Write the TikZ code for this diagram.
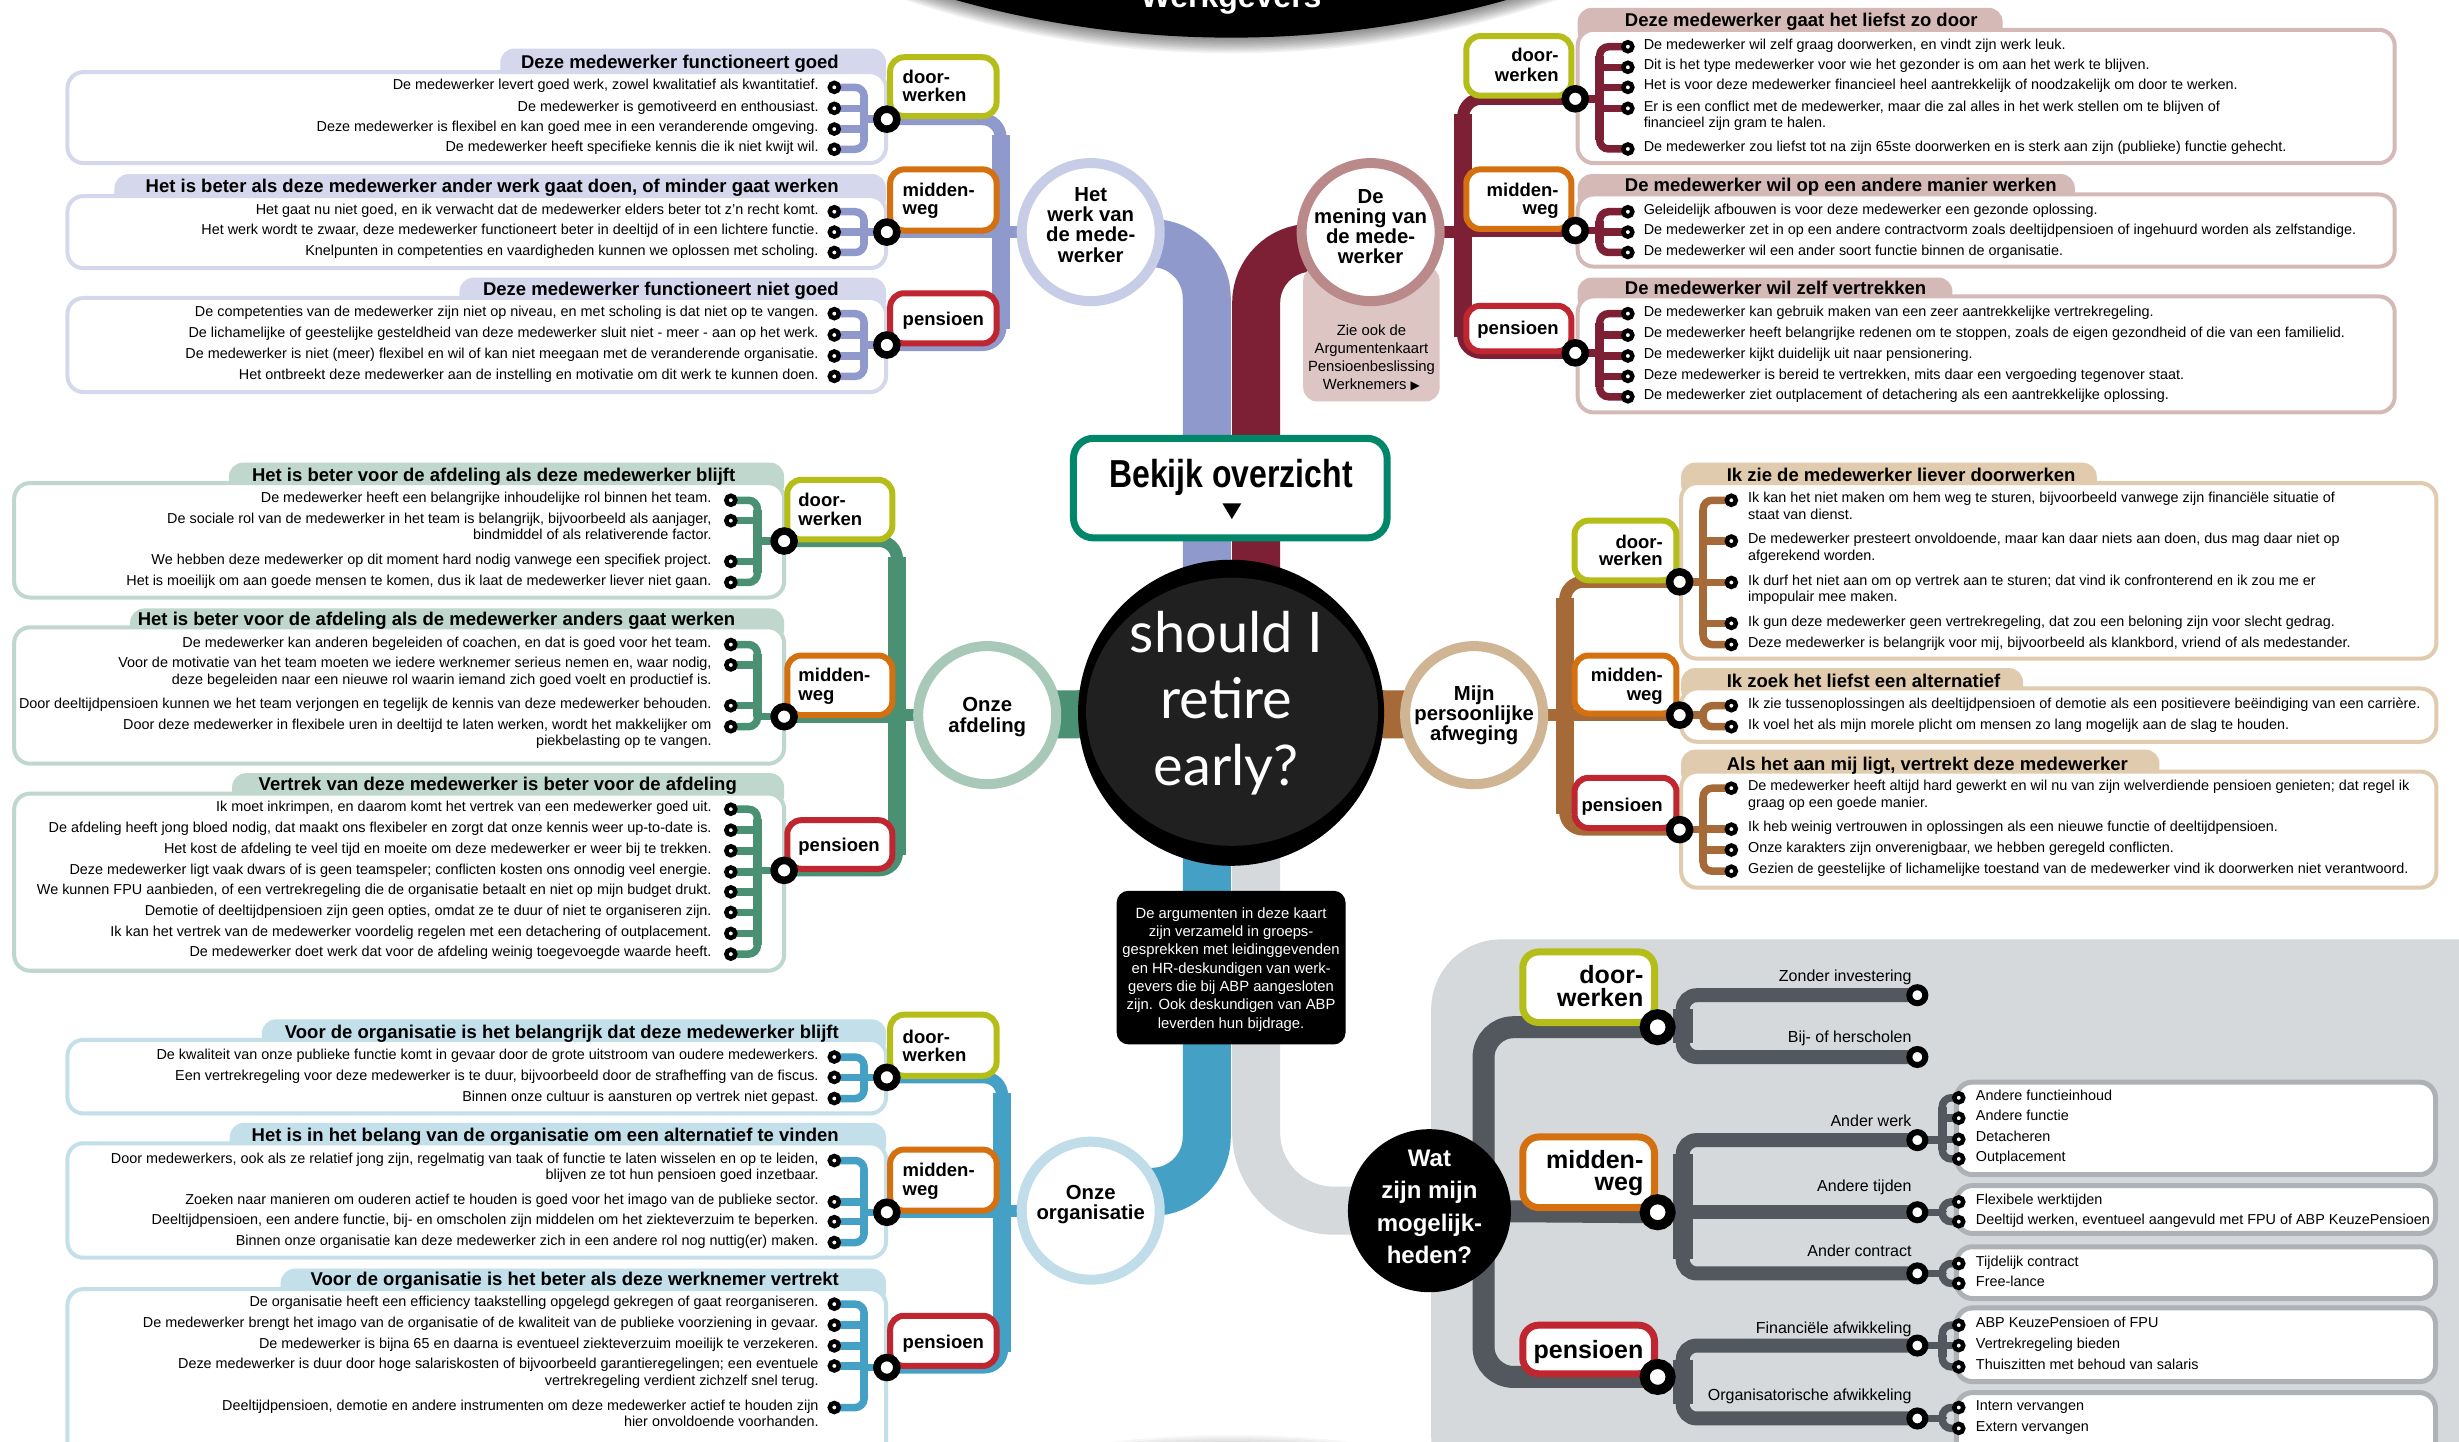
\documentclass[tikz,border=0pt]{standalone}
\usepackage{graphicx}
\usepackage{fontspec}
\setmainfont{Liberation Sans}
\newfontfamily\latofont{Lato}
\newfontfamily\djv{DejaVu Sans}
\usetikzlibrary{calc}
\pgfdeclarelayer{back}
\pgfdeclarelayer{lines}
\pgfsetlayers{back,lines,main}

\definecolor{lav}{HTML}{8F99CC}
\definecolor{lavtab}{HTML}{D5D8EC}
\definecolor{lavring}{HTML}{C8CDE7}
\definecolor{mar}{HTML}{7D1F35}
\definecolor{martab}{HTML}{D4B9B6}
\definecolor{marring}{HTML}{BA898A}
\definecolor{marbox}{HTML}{DCC5C3}
\definecolor{grn}{HTML}{4A9073}
\definecolor{grntab}{HTML}{BFD7CC}
\definecolor{grnring}{HTML}{A8C8B8}
\definecolor{brn}{HTML}{A56A37}
\definecolor{brntab}{HTML}{E0CBAE}
\definecolor{brnring}{HTML}{CFB593}
\definecolor{blu}{HTML}{44A0C4}
\definecolor{blutab}{HTML}{C3DFEA}
\definecolor{bluring}{HTML}{C0DDE9}
\definecolor{gpanel}{HTML}{D5D9DC}
\definecolor{gdark}{HTML}{53575E}
\definecolor{gbox}{HTML}{AEB2B6}
\definecolor{cdoor}{HTML}{B5BD19}
\definecolor{cmid}{HTML}{D4700F}
\definecolor{cpen}{HTML}{C0262F}
\definecolor{bekteal}{HTML}{00876A}
\definecolor{coredark}{HTML}{202020}

\newcommand\fitem{\fontsize{14.4pt}{16.5pt}\selectfont}
\newcommand\fhdr{\fontsize{18.5pt}{20pt}\selectfont\bfseries}
\newcommand\flab{\fontsize{18.5pt}{19pt}\selectfont\bfseries}
\newcommand\fbiglab{\fontsize{25pt}{26pt}\selectfont\bfseries}
\newcommand\fring{\fontsize{20.3pt}{21pt}\selectfont\bfseries}
\newcommand\fsub{\fontsize{16pt}{18pt}\selectfont}
\newcommand\fnote{\fontsize{14.8pt}{17pt}\selectfont}
\newcommand\fwat{\fontsize{24pt}{26pt}\selectfont\bfseries}
\newcommand\fcore{\latofont\fontsize{56pt}{60pt}\selectfont}
\newcommand\fbek{\fontsize{39pt}{40pt}\selectfont\bfseries}
\newcommand\fwg{\fontsize{32pt}{34pt}\selectfont\bfseries}

\newcommand\tgap{15.5pt}
\newcommand\ItemL[4]{%
  \node[itdot] (#1) at (#2,#3) {};
  \node[itxt, anchor=mid east, xshift=-\tgap] (#1t) at (#2,#3) {#4};}
\newcommand\ItemLL[5]{%
  \ItemL{#1}{#2}{#3}{#4}%
  \node[itxt, anchor=mid east, xshift=-\tgap, yshift=-16.5pt] (#1u) at (#2,#3) {#5};}
\newcommand\ItemR[4]{%
  \node[itdot] (#1) at (#2,#3) {};
  \node[itxt, anchor=mid west, xshift=\tgap] (#1t) at (#2,#3) {#4};}
\newcommand\ItemRR[5]{%
  \ItemR{#1}{#2}{#3}{#4}%
  \node[itxt, anchor=mid west, xshift=\tgap, yshift=-16.5pt] (#1u) at (#2,#3) {#5};}

\newcommand\PanelL[7]{%
  \fill[#1, rounded corners=14pt] (#2,#3) rectangle (#6,#5+10);
  \draw[panelbox, draw=#1] (#4,#5) rectangle (#6,#7);}
\newcommand\PanelR[7]{%
  \fill[#1, rounded corners=14pt] (#4,#3) rectangle (#2,#5+10);
  \draw[panelbox, draw=#1] (#4,#5) rectangle (#6,#7);}

\newcommand\Brk[6]{%
  \draw[brkh,#1] (#2.center) -- (#2.center -| #6) -- (#3.center -| #6) -- (#3.center);
  \draw[brkv,#1] ($(#2.center -| #6)+(0,6)$) -- ($(#3.center -| #6)+(0,-6)$);
  \draw[brkh,#1,sharp corners] (#5.center) -- (#5.center -| #6);
  \def\brkmid{#4}%
  \ifx\brkmid\empty\else
    \foreach \k in {#4} {\draw[brkh,#1,sharp corners] (\k.center) -- (\k.center -| #6);}%
  \fi}

\newcommand\Sec[6]{%
  \draw[sech,#1] (#2.center) -- (#2.center -| #6) -- (#4.center -| #6) -- (#4.center);
  \draw[secv,#1] ($(#2.center -| #6)+(0,10)$) -- ($(#4.center -| #6)+(0,-10)$);
  \draw[sech,#1,sharp corners] (#3.center) -- (#3.center -| #6);
  \draw[sech,#1,sharp corners] (#5.center) -- (#5.center -| #6);}

\newcommand\Lines[6]{%
  \foreach \t [count=\i] in {#6} {\node[#5] (#1\i) at (#2,{#3+(\i-1)*#4}) {\t};}}

\begin{document}
\begin{tikzpicture}[x=1.568pt, y=-1.568pt,
  itxt/.style={font=\fitem, inner sep=0pt},
  hdrtxt/.style={font=\fhdr, inner sep=0pt},
  labtxt/.style={font=\flab, inner sep=0pt},
  biglab/.style={font=\fbiglab, inner sep=0pt},
  sublab/.style={font=\fsub, inner sep=0pt, anchor=base east},
  itdot/.style={circle, draw=black, fill=white, line width=4.5pt, minimum size=9pt, inner sep=0pt},
  bigdot/.style={circle, draw=black, fill=white, line width=7.5pt, minimum size=20pt, inner sep=0pt},
  hugedot/.style={circle, draw=black, fill=white, line width=10pt, minimum size=26pt, inner sep=0pt},
  enddot/.style={circle, draw=black, fill=white, line width=6pt, minimum size=16pt, inner sep=0pt},
  ringc/.style={circle, fill=white, line width=10pt, minimum size=138pt, inner sep=0pt},
  ringtxt/.style={font=\fring, inner sep=0pt, anchor=base},
  labbox/.style={fill=white, line width=6pt, rounded corners=14pt},
  biglabbox/.style={fill=white, line width=7pt, rounded corners=16pt},
  panelbox/.style={fill=white, line width=4pt, rounded corners=16pt},
  trunk/.style={line width=48pt},
  sech/.style={line width=12pt, rounded corners=18pt},
  secv/.style={line width=18pt},
  brkh/.style={line width=7.5pt, rounded corners=9pt},
  brkv/.style={line width=8.5pt},
]
\useasboundingbox (0,0) rectangle (1568,919);

% ================= BACK LAYER =================
\begin{pgfonlayer}{back}
\fill[white] (0,0) rectangle (1568,919);
\foreach \k in {1,...,10} {\fill[black, opacity=0.035] (785,{1578-\k*1.3}) circle [radius=650];}
\fill[gpanel, rounded corners=70pt] (912.6,599) rectangle (1620,960);
% TL
\PanelL{lavtab}{319}{31}{43}{46}{565}{104}
\PanelL{lavtab}{73}{111}{43}{125}{565}{171}
\PanelL{lavtab}{293}{177}{43}{190}{565}{250}
% TR
\PanelR{martab}{1277}{5}{1006}{19}{1527}{104}
\PanelR{martab}{1323}{111}{1006}{124}{1527}{170}
\PanelR{martab}{1245}{177}{1006}{189}{1527}{263}
% ML
\PanelL{grntab}{146}{295}{9}{308}{500}{381}
\PanelL{grntab}{83}{388}{9}{400}{500}{487}
\PanelL{grntab}{148}{493}{9}{506}{500}{619}
% MR
\PanelR{brntab}{1337}{295}{1072}{308}{1553.6}{420}
\PanelR{brntab}{1290}{426}{1072}{439}{1553.6}{473}
\PanelR{brntab}{1377}{478}{1072}{492}{1553.6}{566}
% BL
\PanelL{blutab}{167}{650}{43}{663}{565}{710}
\PanelL{blutab}{146.5}{716}{43}{729}{565}{802}
\PanelL{blutab}{179}{809}{43}{822}{565}{935}
% BR sub boxes
\draw[panelbox, line width=5pt, draw=gbox] (1247.5,690) rectangle (1553,749);
\draw[panelbox, line width=5pt, draw=gbox] (1247.5,756) rectangle (1553,786.5);
\draw[panelbox, line width=5pt, draw=gbox] (1247.5,795) rectangle (1553,828);
\draw[panelbox, line width=5pt, draw=gbox] (1247.5,834) rectangle (1553,881);
\draw[panelbox, line width=5pt, draw=gbox] (1247.5,888) rectangle (1553,935);
\end{pgfonlayer}

% ================= TOP "Werkgevers" =================
\foreach \k in {1,...,10} {\fill[black, opacity=0.05] (785,{-626+\k*1.0}) circle [radius=650];}
\fill[black] (785,-626) circle [radius=650];
\node[font=\fwg, text=white, anchor=base, inner sep=0pt] (wg) at (785,4.5) {Werkgevers};

% ================= TL =================
\node[hdrtxt, anchor=base east] (tlh1) at (535,43.6) {Deze medewerker functioneert goed};
\node[hdrtxt, anchor=base east] (tlh2) at (535,122.6) {Het is beter als deze medewerker ander werk gaat doen, of minder gaat werken};
\node[hdrtxt, anchor=base east] (tlh3) at (535,188.6) {Deze medewerker functioneert niet goed};
\draw[labbox, draw=cdoor] (567.6,36.5) rectangle (635.5,74);
\draw[labbox, draw=cmid] (567.6,108) rectangle (635.5,147);
\draw[labbox, draw=cpen] (567.6,187) rectangle (635.5,219);
\node[labtxt, anchor=base west] (tll1) at (575.5,53) {door-};
\node[labtxt, anchor=base west] (tll2) at (575.5,65) {werken};
\node[labtxt, anchor=base west] (tll3) at (575.5,125.4) {midden-};
\node[labtxt, anchor=base west] (tll4) at (575.5,137) {weg};
\node[labtxt, anchor=base west] (tll5) at (575.5,207.3) {pensioen};
\node[bigdot] (tlA) at (565.5,76) {};
\node[bigdot] (tlB) at (565.5,148) {};
\node[bigdot] (tlC) at (565.5,220) {};
\renewcommand\tgap{15.5pt}
\ItemL{tl1a}{532}{55.7}{De medewerker levert goed werk, zowel kwalitatief als kwantitatief.}
\ItemL{tl1b}{532}{69.1}{De medewerker is gemotiveerd en enthousiast.}
\ItemL{tl1c}{532}{82.3}{Deze medewerker is flexibel en kan goed mee in een veranderende omgeving.}
\ItemL{tl1d}{532}{95.2}{De medewerker heeft specifieke kennis die ik niet kwijt wil.}
\ItemL{tl2a}{532}{135}{Het gaat nu niet goed, en ik verwacht dat de medewerker elders beter tot z’n recht komt.}
\ItemL{tl2b}{532}{148}{Het werk wordt te zwaar, deze medewerker functioneert beter in deeltijd of in een lichtere functie.}
\ItemL{tl2c}{532}{161}{Knelpunten in competenties en vaardigheden kunnen we oplossen met scholing.}
\ItemL{tl3a}{532}{200}{De competenties van de medewerker zijn niet op niveau, en met scholing is dat niet op te vangen.}
\ItemL{tl3b}{532}{213.6}{De lichamelijke of geestelijke gesteldheid van deze medewerker sluit niet - meer - aan op het werk.}
\ItemL{tl3c}{532}{227}{De medewerker is niet (meer) flexibel en wil of kan niet meegaan met de veranderende organisatie.}
\ItemL{tl3d}{532}{240}{Het ontbreekt deze medewerker aan de instelling en motivatie om dit werk te kunnen doen.}
\coordinate (tlbar) at (638,0);
\coordinate (tlbk) at (551,0);

% ================= TR =================
\node[hdrtxt, anchor=base west] (trh1) at (1036,17) {Deze medewerker gaat het liefst zo door};
\node[hdrtxt, anchor=base west] (trh2) at (1036,122) {De medewerker wil op een andere manier werken};
\node[hdrtxt, anchor=base west] (trh3) at (1036,188) {De medewerker wil zelf vertrekken};
\draw[labbox, draw=cdoor] (935,23) rectangle (1002,61);
\draw[labbox, draw=cmid] (935,108) rectangle (1002,146);
\draw[labbox, draw=cpen] (935,195) rectangle (1002,224);
\node[labtxt, anchor=base east] (trl1) at (994,39.3) {door-};
\node[labtxt, anchor=base east] (trl2) at (994,52) {werken};
\node[labtxt, anchor=base east] (trl3) at (994,125.4) {midden-};
\node[labtxt, anchor=base east] (trl4) at (994,137) {weg};
\node[labtxt, anchor=base east] (trl5) at (994,213.6) {pensioen};
\node[bigdot] (trA) at (1004.5,63) {};
\node[bigdot] (trB) at (1004.5,147) {};
\node[bigdot] (trC) at (1004.5,225) {};
\renewcommand\tgap{15.7pt}
\ItemR{tr1a}{1038}{29.8}{De medewerker wil zelf graag doorwerken, en vindt zijn werk leuk.}
\ItemR{tr1b}{1038}{42.9}{Dit is het type medewerker voor wie het gezonder is om aan het werk te blijven.}
\ItemR{tr1c}{1038}{55.7}{Het is voor deze medewerker financieel heel aantrekkelijk of noodzakelijk om door te werken.}
\ItemRR{tr1d}{1038}{69.1}{Er is een conflict met de medewerker, maar die zal alles in het werk stellen om te blijven of}{financieel zijn gram te halen.}
\ItemR{tr1e}{1038}{95}{De medewerker zou liefst tot na zijn 65ste doorwerken en is sterk aan zijn (publieke) functie gehecht.}
\ItemR{tr2a}{1038}{135}{Geleidelijk afbouwen is voor deze medewerker een gezonde oplossing.}
\ItemR{tr2b}{1038}{148}{De medewerker zet in op een andere contractvorm zoals deeltijdpensioen of ingehuurd worden als zelfstandige.}
\ItemR{tr2c}{1038}{161}{De medewerker wil een ander soort functie binnen de organisatie.}
\ItemR{tr3a}{1038}{200}{De medewerker kan gebruik maken van een zeer aantrekkelijke vertrekregeling.}
\ItemR{tr3b}{1038}{213.7}{De medewerker heeft belangrijke redenen om te stoppen, zoals de eigen gezondheid of die van een familielid.}
\ItemR{tr3c}{1038}{227}{De medewerker kijkt duidelijk uit naar pensionering.}
\ItemR{tr3d}{1038}{240}{Deze medewerker is bereid te vertrekken, mits daar een vergoeding tegenover staat.}
\ItemR{tr3e}{1038}{253}{De medewerker ziet outplacement of detachering als een aantrekkelijke oplossing.}
\coordinate (trbar) at (933,0);
\coordinate (trbk) at (1020,0);

% ================= ML =================
\node[hdrtxt, anchor=base east] (mlh1) at (469,307.2) {Het is beter voor de afdeling als deze medewerker blijft};
\node[hdrtxt, anchor=base east] (mlh2) at (469,399) {Het is beter voor de afdeling als de medewerker anders gaat werken};
\node[hdrtxt, anchor=base east] (mlh3) at (470,503.8) {Vertrek van deze medewerker is beter voor de afdeling};
\draw[labbox, draw=cdoor] (502,306) rectangle (569,344);
\draw[labbox, draw=cmid] (502,418) rectangle (569,456);
\draw[labbox, draw=cpen] (502,523) rectangle (569,554);
\node[labtxt, anchor=base west] (mll1) at (509,323) {door-};
\node[labtxt, anchor=base west] (mll2) at (509,334.8) {werken};
\node[labtxt, anchor=base west] (mll3) at (509,434.7) {midden-};
\node[labtxt, anchor=base west] (mll4) at (509,446.4) {weg};
\node[labtxt, anchor=base west] (mll5) at (509,543) {pensioen};
\node[bigdot] (mlA) at (500,345) {};
\node[bigdot] (mlB) at (500,457) {};
\node[bigdot] (mlC) at (500,555) {};
\renewcommand\tgap{19pt}
\ItemL{ml1a}{466}{319}{De medewerker heeft een belangrijke inhoudelijke rol binnen het team.}
\ItemLL{ml1b}{466}{332}{De sociale rol van de medewerker in het team is belangrijk, bijvoorbeeld als aanjager,}{bindmiddel of als relativerende factor.}
\ItemL{ml1c}{466}{358}{We hebben deze medewerker op dit moment hard nodig vanwege een specifiek project.}
\ItemL{ml1d}{466}{371.4}{Het is moeilijk om aan goede mensen te komen, dus ik laat de medewerker liever niet gaan.}
\ItemL{ml2a}{466}{411}{De medewerker kan anderen begeleiden of coachen, en dat is goed voor het team.}
\ItemLL{ml2b}{466}{424}{Voor de motivatie van het team moeten we iedere werknemer serieus nemen en, waar nodig,}{deze begeleiden naar een nieuwe rol waarin iemand zich goed voelt en productief is.}
\ItemL{ml2c}{466}{450}{Door deeltijdpensioen kunnen we het team verjongen en tegelijk de kennis van deze medewerker behouden.}
\ItemLL{ml2d}{466}{463.4}{Door deze medewerker in flexibele uren in deeltijd te laten werken, wordt het makkelijker om}{piekbelasting op te vangen.}
\ItemL{ml3a}{466}{516}{Ik moet inkrimpen, en daarom komt het vertrek van een medewerker goed uit.}
\ItemL{ml3b}{466}{529.4}{De afdeling heeft jong bloed nodig, dat maakt ons flexibeler en zorgt dat onze kennis weer up-to-date is.}
\ItemL{ml3c}{466}{542.5}{Het kost de afdeling te veel tijd en moeite om deze medewerker er weer bij te trekken.}
\ItemL{ml3d}{466}{556}{Deze medewerker ligt vaak dwars of is geen teamspeler; conflicten kosten ons onnodig veel energie.}
\ItemL{ml3e}{466}{568.7}{We kunnen FPU aanbieden, of een vertrekregeling die de organisatie betaalt en niet op mijn budget drukt.}
\ItemL{ml3f}{466}{581.8}{Demotie of deeltijdpensioen zijn geen opties, omdat ze te duur of niet te organiseren zijn.}
\ItemL{ml3g}{466}{595.2}{Ik kan het vertrek van de medewerker voordelig regelen met een detachering of outplacement.}
\ItemL{ml3h}{466}{608.4}{De medewerker doet werk dat voor de afdeling weinig toegevoegde waarde heeft.}
\coordinate (mlbar) at (572,0);
\coordinate (mlbk) at (483,0);

% ================= MR =================
\node[hdrtxt, anchor=base west] (mrh1) at (1101,306.8) {Ik zie de medewerker liever doorwerken};
\node[hdrtxt, anchor=base west] (mrh2) at (1101,438.6) {Ik zoek het liefst een alternatief};
\node[hdrtxt, anchor=base west] (mrh3) at (1101,491) {Als het aan mij ligt, vertrekt deze medewerker};
\draw[labbox, draw=cdoor] (1004,332) rectangle (1069,370);
\draw[labbox, draw=cmid] (1004,418) rectangle (1069,455);
\draw[labbox, draw=cpen] (1004,496) rectangle (1069,528);
\node[labtxt, anchor=base east] (mrl1) at (1060.4,349.7) {door-};
\node[labtxt, anchor=base east] (mrl2) at (1060.4,360.8) {werken};
\node[labtxt, anchor=base east] (mrl3) at (1060.4,434.7) {midden-};
\node[labtxt, anchor=base east] (mrl4) at (1060.4,446.4) {weg};
\node[labtxt, anchor=base east] (mrl5) at (1060.4,517.2) {pensioen};
\node[bigdot] (mrA) at (1071,371) {};
\node[bigdot] (mrB) at (1071,456) {};
\node[bigdot] (mrC) at (1071,529) {};
\renewcommand\tgap{16.5pt}
\ItemRR{mr1a}{1104}{319}{Ik kan het niet maken om hem weg te sturen, bijvoorbeeld vanwege zijn financiële situatie of}{staat van dienst.}
\ItemRR{mr1b}{1104}{345}{De medewerker presteert onvoldoende, maar kan daar niets aan doen, dus mag daar niet op}{afgerekend worden.}
\ItemRR{mr1c}{1104}{371.4}{Ik durf het niet aan om op vertrek aan te sturen; dat vind ik confronterend en ik zou me er}{impopulair mee maken.}
\ItemR{mr1d}{1104}{397.5}{Ik gun deze medewerker geen vertrekregeling, dat zou een beloning zijn voor slecht gedrag.}
\ItemR{mr1e}{1104}{411}{Deze medewerker is belangrijk voor mij, bijvoorbeeld als klankbord, vriend of als medestander.}
\ItemR{mr2a}{1104}{450}{Ik zie tussenoplossingen als deeltijdpensioen of demotie als een positievere beëindiging van een carrière.}
\ItemR{mr2b}{1104}{463.4}{Ik voel het als mijn morele plicht om mensen zo lang mogelijk aan de slag te houden.}
\ItemRR{mr3a}{1104}{502.6}{De medewerker heeft altijd hard gewerkt en wil nu van zijn welverdiende pensioen genieten; dat regel ik}{graag op een goede manier.}
\ItemR{mr3b}{1104}{528.7}{Ik heb weinig vertrouwen in oplossingen als een nieuwe functie of deeltijdpensioen.}
\ItemR{mr3c}{1104}{542}{Onze karakters zijn onverenigbaar, we hebben geregeld conflicten.}
\ItemR{mr3d}{1104}{555.5}{Gezien de geestelijke of lichamelijke toestand van de medewerker vind ik doorwerken niet verantwoord.}
\coordinate (mrbar) at (998,0);
\coordinate (mrbk) at (1086,0);

% ================= BL =================
\node[hdrtxt, anchor=base east] (blh1) at (535,662) {Voor de organisatie is het belangrijk dat deze medewerker blijft};
\node[hdrtxt, anchor=base east] (blh2) at (535,728) {Het is in het belang van de organisatie om een alternatief te vinden};
\node[hdrtxt, anchor=base east] (blh3) at (535,820) {Voor de organisatie is het beter als deze werknemer vertrekt};
\draw[labbox, draw=cdoor] (567.6,647) rectangle (635.5,686);
\draw[labbox, draw=cmid] (567.6,733) rectangle (635.5,772);
\draw[labbox, draw=cpen] (567.6,839) rectangle (635.5,871);
\node[labtxt, anchor=base west] (bll1) at (575.5,665.4) {door-};
\node[labtxt, anchor=base west] (bll2) at (575.5,676.7) {werken};
\node[labtxt, anchor=base west] (bll3) at (575.5,750.4) {midden-};
\node[labtxt, anchor=base west] (bll4) at (575.5,762) {weg};
\node[labtxt, anchor=base west] (bll5) at (575.5,860) {pensioen};
\node[bigdot] (blA) at (565.5,687) {};
\node[bigdot] (blB) at (565.5,773) {};
\node[bigdot] (blC) at (565.5,872) {};
\renewcommand\tgap{15.5pt}
\ItemL{bl1a}{532}{674}{De kwaliteit van onze publieke functie komt in gevaar door de grote uitstroom van oudere medewerkers.}
\ItemL{bl1b}{532}{687}{Een vertrekregeling voor deze medewerker is te duur, bijvoorbeeld door de strafheffing van de fiscus.}
\ItemL{bl1c}{532}{700.5}{Binnen onze cultuur is aansturen op vertrek niet gepast.}
\ItemLL{bl2a}{532}{740}{Door medewerkers, ook als ze relatief jong zijn, regelmatig van taak of functie te laten wisselen en op te leiden,}{blijven ze tot hun pensioen goed inzetbaar.}
\ItemL{bl2b}{532}{766.4}{Zoeken naar manieren om ouderen actief te houden is goed voor het imago van de publieke sector.}
\ItemL{bl2c}{532}{779}{Deeltijdpensioen, een andere functie, bij- en omscholen zijn middelen om het ziekteverzuim te beperken.}
\ItemL{bl2d}{532}{792.3}{Binnen onze organisatie kan deze medewerker zich in een andere rol nog nuttig(er) maken.}
\ItemL{bl3a}{532}{831.6}{De organisatie heeft een efficiency taakstelling opgelegd gekregen of gaat reorganiseren.}
\ItemL{bl3b}{532}{845}{De medewerker brengt het imago van de organisatie of de kwaliteit van de publieke voorziening in gevaar.}
\ItemL{bl3c}{532}{858.2}{De medewerker is bijna 65 en daarna is eventueel ziekteverzuim moeilijk te verzekeren.}
\ItemLL{bl3d}{532}{871}{Deze medewerker is duur door hoge salariskosten of bijvoorbeeld garantieregelingen; een eventuele}{vertrekregeling verdient zichzelf snel terug.}
\ItemLL{bl3e}{532}{897.5}{Deeltijdpensioen, demotie en andere instrumenten om deze medewerker actief te houden zijn}{hier onvoldoende voorhanden.}
\coordinate (blbar) at (639,0);
\coordinate (blbk) at (551,0);

% ================= BR =================
\draw[biglabbox, draw=cdoor] (971,607) rectangle (1055,652);
\draw[biglabbox, draw=cmid] (971,725) rectangle (1055,770);
\draw[biglabbox, draw=cpen] (971,845) rectangle (1055,876);
\node[biglab, anchor=base east] (brl1) at (1048,627) {door-};
\node[biglab, anchor=base east] (brl2) at (1048,642) {werken};
\node[biglab, anchor=base east] (brl3) at (1048,745) {midden-};
\node[biglab, anchor=base east] (brl4) at (1048,759.4) {weg};
\node[biglab, anchor=base east] (brl5) at (1048,866) {pensioen};
\node[hugedot] (brA) at (1057,655) {};
\node[hugedot] (brB) at (1057,773) {};
\node[hugedot] (brC) at (1057,878) {};
\node[enddot] (e1) at (1222.6,634.6) {};
\node[enddot] (e2) at (1222.6,674) {};
\node[enddot] (e3) at (1222.6,727) {};
\node[enddot] (e4) at (1222.6,773) {};
\node[enddot] (e5) at (1222.6,812) {};
\node[enddot] (e6) at (1222.6,858) {};
\node[enddot] (e7) at (1222.6,904.5) {};
\node[sublab] (s1) at (1219,626) {Zonder investering};
\node[sublab] (s2) at (1219,665) {Bij- of herscholen};
\node[sublab] (s3) at (1219,718) {Ander werk};
\node[sublab] (s4) at (1219,760) {Andere tijden};
\node[sublab] (s5) at (1219,801.5) {Ander contract};
\node[sublab] (s6) at (1219,850) {Financiële afwikkeling};
\node[sublab] (s7) at (1219,893) {Organisatorische afwikkeling};
\renewcommand\tgap{17pt}
\ItemR{bA1}{1249}{700}{Andere functieinhoud}
\ItemR{bA2}{1249}{713}{Andere functie}
\ItemR{bA3}{1249}{726.5}{Detacheren}
\ItemR{bA4}{1249}{739}{Outplacement}
\ItemR{bB1}{1249}{766.4}{Flexibele werktijden}
\ItemR{bB2}{1249}{779}{Deeltijd werken, eventueel aangevuld met FPU of ABP KeuzePensioen}
\ItemR{bC1}{1249}{805.7}{Tijdelijk contract}
\ItemR{bC2}{1249}{818.4}{Free-lance}
\ItemR{bD1}{1249}{845}{ABP KeuzePensioen of FPU}
\ItemR{bD2}{1249}{858}{Vertrekregeling bieden}
\ItemR{bD3}{1249}{871.6}{Thuiszitten met behoud van salaris}
\ItemR{bE1}{1249}{897.5}{Intern vervangen}
\ItemR{bE2}{1249}{910.8}{Extern vervangen}
\coordinate (brbar) at (946,0);
\coordinate (brsx) at (1073,0);
\coordinate (brsk) at (1238.5,0);

% ================= CENTRE =================
\node[ringc, draw=lavring] (hw) at (695.5,148) {};
\Lines{hwt}{695.5}{128.5}{12.9}{ringtxt}{Het,werk van,de mede-,werker}
\fill[marbox, rounded corners=14pt] (831,170) rectangle (918,256);
\node[ringc, draw=marring] (mening) at (874,148) {};
\Lines{mnt}{874}{129.8}{12.7}{ringtxt}{De,mening van,de mede-,werker}
\Lines{zie}{874.5}{214}{11.5}{font=\fnote, inner sep=0pt, anchor=base}{Zie ook de,Argumentenkaart,Pensioenbeslissing,Werknemers {\djv\fontsize{12pt}{12pt}\selectfont ▶}}
\node[ringc, draw=grnring] (afd) at (629.5,456) {};
\Lines{aft}{629.5}{453.4}{13.4}{ringtxt}{Onze,afdeling}
\node[ringc, draw=brnring] (mijn) at (940,456) {};
\Lines{mjt}{940}{446.4}{12.8}{ringtxt}{Mijn,persoonlijke,afweging}
\node[ringc, draw=bluring] (org) at (695.5,772) {};
\Lines{ogt}{695.5}{765}{12.6}{ringtxt}{Onze,organisatie}

\draw[line width=7pt, draw=bekteal, fill=white, rounded corners=20pt] (684.5,279.5) rectangle (884.5,343);
\node[font=\fbek, inner sep=0pt, anchor=base] (bek) at (785,311) {\scalebox{0.82}[1]{Bekijk overzicht}};
\fill[black] (779.5,321) -- (791.5,321) -- (785.5,331) -- cycle;

\node[circle, fill=black, minimum size=306pt, inner sep=0pt] (core) at (785,454.5) {};
\fill[coredark] ([xshift=1pt,yshift=1pt]core.center) ellipse [x radius=146pt, y radius=134pt];
\Lines{cor}{782}{416}{42.3}{font=\fcore, text=white, inner sep=0pt, anchor=base}{should I,retire,early?}

\fill[black, rounded corners=12pt] (712,568) rectangle (858,666);
\Lines{inf}{785}{585.5}{11.7}{font=\fnote, text=white, inner sep=0pt, anchor=base}{De argumenten in deze kaart,zijn verzameld in groeps-,gesprekken met leidinggevenden,en HR-deskundigen van werk-,gevers die bij ABP aangesloten,zijn. Ook deskundigen van ABP,leverden hun bijdrage.}

\node[circle, fill=black, minimum size=163pt, inner sep=0pt] (wat) at (911.5,772) {};
\Lines{wtt}{911.5}{744}{20.5}{font=\fwat, text=white, inner sep=0pt, anchor=base}{Wat,zijn mijn,mogelijk-,heden?}

% ================= LINES LAYER =================
\begin{pgfonlayer}{lines}
\coordinate (lx) at (769.5,0);
\coordinate (mx) at (801,0);
\coordinate (lvy) at (0,155);
\coordinate (mry) at (0,158);
\coordinate (bly) at (0,760);
\draw[trunk, lav, rounded corners=55pt] (core.center -| lx) -- (lx |- lvy) -- (hw.center |- lvy);
\draw[trunk, mar, rounded corners=55pt] (core.center -| mx) -- (mx |- mry) -- (mening.center |- mry);
\draw[trunk, blu, rounded corners=55pt] (core.center -| lx) -- (lx |- bly) -- (org.center |- bly);
\draw[trunk, gpanel, rounded corners=78pt] (core.center -| mx) -- (mx |- wat.center) -- (wat.center);
\draw[trunk, grn] (core.center) -- (afd.center);
\draw[trunk, brn] (core.center) -- (mijn.center);

\Sec{lav}{tlA}{tlB}{tlC}{hw}{tlbar}
\Sec{mar}{trA}{trB}{trC}{mening}{trbar}
\Sec{grn}{mlA}{mlB}{mlC}{afd}{mlbar}
\Sec{brn}{mrA}{mrB}{mrC}{mijn}{mrbar}
\Sec{blu}{blA}{blB}{blC}{org}{blbar}

\Brk{lav}{tl1a}{tl1d}{tl1b,tl1c}{tlA}{tlbk}
\Brk{lav}{tl2a}{tl2c}{tl2b}{tlB}{tlbk}
\Brk{lav}{tl3a}{tl3d}{tl3b,tl3c}{tlC}{tlbk}
\Brk{mar}{tr1a}{tr1e}{tr1b,tr1c,tr1d}{trA}{trbk}
\Brk{mar}{tr2a}{tr2c}{tr2b}{trB}{trbk}
\Brk{mar}{tr3a}{tr3e}{tr3b,tr3c,tr3d}{trC}{trbk}
\Brk{grn}{ml1a}{ml1d}{ml1b,ml1c}{mlA}{mlbk}
\Brk{grn}{ml2a}{ml2d}{ml2b,ml2c}{mlB}{mlbk}
\Brk{grn}{ml3a}{ml3h}{ml3b,ml3c,ml3d,ml3e,ml3f,ml3g}{mlC}{mlbk}
\Brk{brn}{mr1a}{mr1e}{mr1b,mr1c,mr1d}{mrA}{mrbk}
\Brk{brn}{mr2a}{mr2b}{}{mrB}{mrbk}
\Brk{brn}{mr3a}{mr3d}{mr3b,mr3c}{mrC}{mrbk}
\Brk{blu}{bl1a}{bl1c}{bl1b}{blA}{blbk}
\Brk{blu}{bl2a}{bl2d}{bl2b,bl2c}{blB}{blbk}
\Brk{blu}{bl3a}{bl3e}{bl3b,bl3c,bl3d}{blC}{blbk}

\draw[line width=22pt, gdark, rounded corners=30pt] (brA.center) -- (brA.center -| brbar) -- (brC.center -| brbar) -- (brC.center);
\draw[line width=22pt, gdark] (wat.center) -- (brB.center);
\draw[line width=14pt, gdark, rounded corners=14pt] (e1.center) -- (e1.center -| brsx) -- (e2.center -| brsx) -- (e2.center);
\draw[line width=20pt, gdark] ($(e1.center -| brsx)+(0,9)$) -- ($(e2.center -| brsx)+(0,-9)$);
\draw[line width=14pt, gdark] (brA.center) -- (brA.center -| brsx);
\draw[line width=14pt, gdark, rounded corners=14pt] (e3.center) -- (e3.center -| brsx) -- (e5.center -| brsx) -- (e5.center);
\draw[line width=20pt, gdark] ($(e3.center -| brsx)+(0,9)$) -- ($(e5.center -| brsx)+(0,-9)$);
\draw[line width=14pt, gdark] (brB.center) -- (e4.center);
\draw[line width=14pt, gdark, rounded corners=14pt] (e6.center) -- (e6.center -| brsx) -- (e7.center -| brsx) -- (e7.center);
\draw[line width=20pt, gdark] ($(e6.center -| brsx)+(0,9)$) -- ($(e7.center -| brsx)+(0,-9)$);
\draw[line width=14pt, gdark] (brC.center) -- (brC.center -| brsx);
\Brk{gdark}{bA1}{bA4}{bA2,bA3}{e3}{brsk}
\Brk{gdark}{bB1}{bB2}{}{e4}{brsk}
\Brk{gdark}{bC1}{bC2}{}{e5}{brsk}
\Brk{gdark}{bD1}{bD3}{bD2}{e6}{brsk}
\Brk{gdark}{bE1}{bE2}{}{e7}{brsk}
\end{pgfonlayer}
\end{tikzpicture}
\end{document}
